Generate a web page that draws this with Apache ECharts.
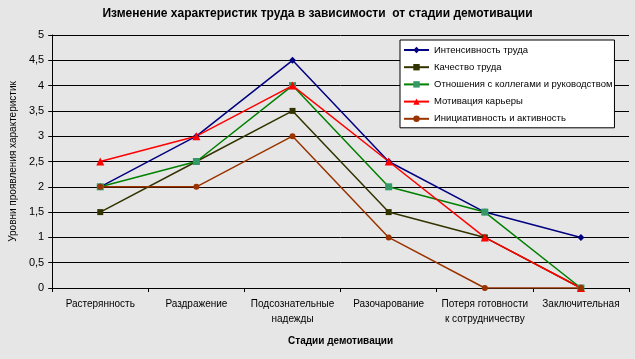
<!DOCTYPE html>
<html><head><meta charset="utf-8">
<script src="https://cdn.jsdelivr.net/npm/echarts@6/dist/echarts.min.js"></script>
<style>html,body{margin:0;padding:0;background:#e6e6e6}#c{width:635px;height:359px}</style>
</head><body><div id="c"></div>
<script>
const categories = ['Растерянность','Раздражение','Подсознательные\nнадежды','Разочарование','Потеря готовности\nк сотрудничеству','Заключительная'];
const intensity = [2, 3, 4.5, 2.5, 1.5, 1];
const quality = [1.5, 2.5, 3.5, 1.5, 1, 0];
const relations = [2, 2.5, 4, 2, 1.5, 0];
const motivation = [2.5, 3, 4, 2.5, 1, 0];
const initiative = [2, 2, 3, 1, 0, 0];
const seriesNames = ['Интенсивность труда','Качество труда','Отношения с коллегами и руководством','Мотивация карьеры','Инициативность и активность'];

const font = 'Arial, "Liberation Sans", sans-serif';
function s(name, data, color, symbol, size, mcolor, width) {
  return {name, type:'line', data, symbol, symbolSize:size, showSymbol:true,
    lineStyle:{color, width:width||1.5}, itemStyle:{color:mcolor||color, borderWidth:0}, z:2, animation:false};
}
const chart = echarts.init(document.getElementById('c'));
chart.setOption({
  backgroundColor:'#e6e6e6',
  animation:false,
  title:{text:'Изменение характеристик труда в зависимости  от стадии демотивации', left:'center', top:3,
    textStyle:{fontFamily:font, fontSize:12, fontWeight:'bold', color:'#000'}},
  grid:{left:48, right:6, top:35, bottom:71},
  legend:{orient:'vertical', left:400, top:40, width:210, itemGap:7.2, itemWidth:25, itemHeight:8,
    backgroundColor:'#fff', borderColor:'#000', borderWidth:1, borderRadius:0, padding:[5,2,4,3],
    textStyle:{fontFamily:font, fontSize:9.5, color:'#000'}, data:seriesNames},
  xAxis:{type:'category', data:categories, boundaryGap:true,
    name:'Стадии демотивации', nameLocation:'middle', nameGap:48,
    nameTextStyle:{fontFamily:font, fontSize:10, fontWeight:'bold', color:'#000'},
    axisLine:{lineStyle:{color:'#000'}}, axisTick:{show:true, lineStyle:{color:'#000'}, length:4},
    axisLabel:{fontFamily:font, fontSize:10, color:'#000', margin:9, lineHeight:15, interval:0}},
  yAxis:{type:'value', min:0, max:5, interval:0.5,
    name:'Уровни проявления характеристик', nameLocation:'middle', nameGap:31, nameRotate:90,
    nameTextStyle:{fontFamily:font, fontSize:10, color:'#000'},
    axisLine:{show:true, lineStyle:{color:'#000'}}, axisTick:{show:true, length:4, lineStyle:{color:'#000'}},
    splitLine:{lineStyle:{color:'#000', width:1}},
    axisLabel:{fontFamily:font, fontSize:11, color:'#000', margin:8,
      formatter:v=>String(v).replace('.',',')}},
  series:[
    s(seriesNames[0], intensity, '#000080', 'diamond', 7),
    s(seriesNames[1], quality, '#333300', 'rect', 6),
    s(seriesNames[2], relations, '#008000', 'rect', 7, '#339966'),
    s(seriesNames[3], motivation, '#ff0000', 'triangle', 8),
    s(seriesNames[4], initiative, '#993300', 'circle', 6)
  ]
});
</script></body></html>
